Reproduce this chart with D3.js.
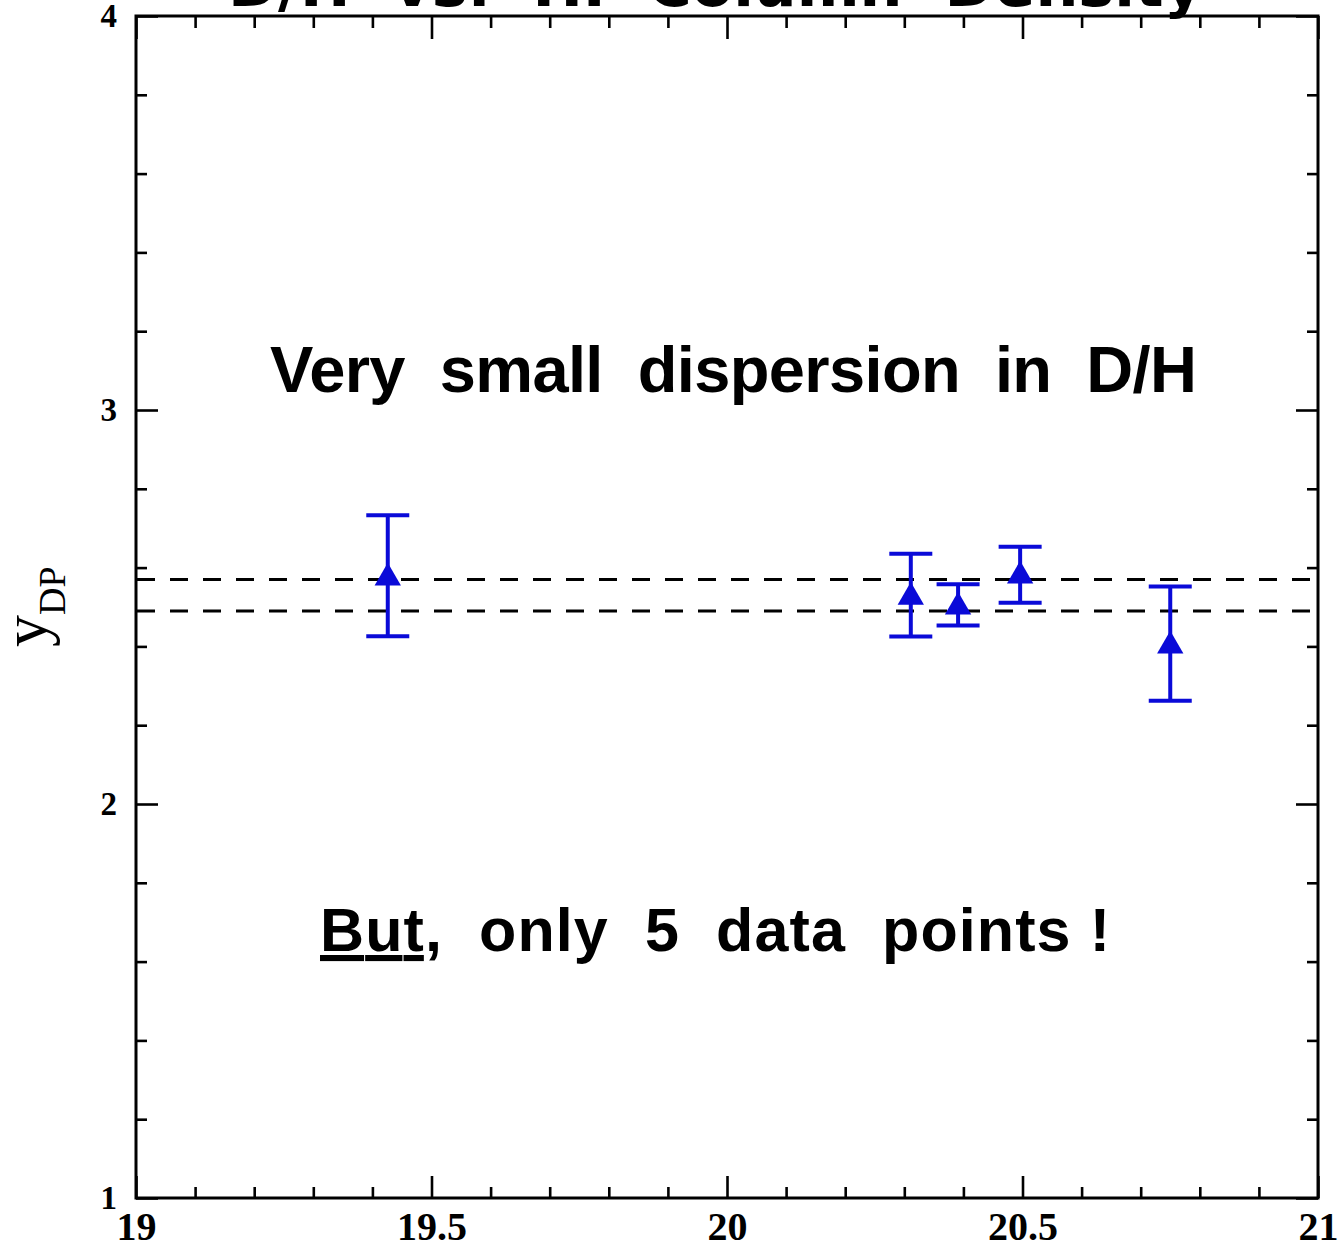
<!DOCTYPE html>
<html>
<head>
<meta charset="utf-8">
<script src="https://cdn.jsdelivr.net/npm/d3@7"></script>
<style>
  html, body { margin: 0; padding: 0; background: #fff; }
  svg { display: block; }
</style>
</head>
<body>
<svg id="chart" width="1338" height="1246"></svg>
<script>
// ---- data ----
const xValues = [19.426, 20.311, 20.391, 20.496, 20.750];   // log N(HI)
const yValues = [2.574, 2.525, 2.500, 2.579, 2.401];        // y_DP
const yUpper  = [2.733, 2.635, 2.558, 2.653, 2.552];
const yLower  = [2.426, 2.425, 2.453, 2.511, 2.262];
const meanBand = [2.49, 2.57];                                 // dashed lines
const xMajorTicks = [19, 19.5, 20, 20.5, 21];
const xTickLabels = ["19", "19.5", "20", "20.5", "21"];
const yMajorTicks = [1, 2, 3, 4];
const yTickLabels = ["1", "2", "3", "4"];
const xDomain = [19, 21];
const yDomain = [1, 4];
const titleText = "D/H  vs.  HI  Column  Density";
const note1 = "Very  small  dispersion  in  D/H";
const note2a = "But";
const note2b = ",  only  5  data  points !";
const yLabelMain = "y";
const yLabelSub = "DP";

// ---- layout ----
const svg = d3.select("#chart");
const L = 136, R = 1318, T = 16, B = 1198;
const x = d3.scaleLinear().domain(xDomain).range([L, R]);
const y = d3.scaleLinear().domain(yDomain).range([B, T]);

const xMinor = d3.range(19, 21.0001, 0.1).map(v => +v.toFixed(2)).filter(v => !xMajorTicks.some(m => Math.abs(m - v) < 1e-6));
const yMinor = d3.range(1, 4.0001, 0.2).map(v => +v.toFixed(2)).filter(v => !yMajorTicks.some(m => Math.abs(m - v) < 1e-6));

function styleAxis(g) {
  g.select(".domain").remove();
  g.selectAll(".tick line").attr("stroke", "#000").attr("stroke-width", 2.6);
}

// title (mostly cut off at the top)
svg.append("text")
  .attr("x", 228).attr("y", 6)
  .attr("textLength", 975).attr("lengthAdjust", "spacingAndGlyphs")
  .attr("font-family", "DejaVu Sans, sans-serif").attr("font-weight", "bold")
  .attr("font-size", 60).attr("fill", "#000")
  .style("white-space", "pre")
  .text(titleText);

// axes: bottom
const xLabelMap = new Map(xMajorTicks.map((v, i) => [v, xTickLabels[i]]));
svg.append("g").attr("transform", `translate(0,${B})`)
  .call(d3.axisBottom(x).tickValues(xMajorTicks).tickSizeInner(-22).tickSizeOuter(0).tickPadding(14)
        .tickFormat(d => xLabelMap.get(d)))
  .call(styleAxis)
  .call(g => g.selectAll("text").attr("font-family", "Liberation Serif, serif").attr("font-weight", "bold")
        .attr("font-size", 40).attr("fill", "#000"));
svg.append("g").attr("transform", `translate(0,${B})`)
  .call(d3.axisBottom(x).tickValues(xMinor).tickSizeInner(-11).tickSizeOuter(0).tickFormat(""))
  .call(styleAxis);
// top
svg.append("g").attr("transform", `translate(0,${T})`)
  .call(d3.axisTop(x).tickValues(xMajorTicks).tickSizeInner(-23).tickSizeOuter(0).tickFormat(""))
  .call(styleAxis);
svg.append("g").attr("transform", `translate(0,${T})`)
  .call(d3.axisTop(x).tickValues(xMinor).tickSizeInner(-12).tickSizeOuter(0).tickFormat(""))
  .call(styleAxis);
// left
const yLabelMap = new Map(yMajorTicks.map((v, i) => [v, yTickLabels[i]]));
svg.append("g").attr("transform", `translate(${L},0)`)
  .call(d3.axisLeft(y).tickValues(yMajorTicks).tickSizeInner(-22).tickSizeOuter(0).tickPadding(19)
        .tickFormat(d => yLabelMap.get(d)))
  .call(styleAxis)
  .call(g => g.selectAll("text").attr("font-family", "Liberation Serif, serif").attr("font-weight", "bold")
        .attr("font-size", 33).attr("fill", "#000"));
svg.append("g").attr("transform", `translate(${L},0)`)
  .call(d3.axisLeft(y).tickValues(yMinor).tickSizeInner(-11).tickSizeOuter(0).tickFormat(""))
  .call(styleAxis);
// right
svg.append("g").attr("transform", `translate(${R},0)`)
  .call(d3.axisRight(y).tickValues(yMajorTicks).tickSizeInner(-22).tickSizeOuter(0).tickFormat(""))
  .call(styleAxis);
svg.append("g").attr("transform", `translate(${R},0)`)
  .call(d3.axisRight(y).tickValues(yMinor).tickSizeInner(-11).tickSizeOuter(0).tickFormat(""))
  .call(styleAxis);

// frame
svg.append("rect")
  .attr("x", x(xDomain[0])).attr("y", y(yDomain[1]))
  .attr("width", x(xDomain[1]) - x(xDomain[0])).attr("height", y(yDomain[0]) - y(yDomain[1]))
  .attr("fill", "none").attr("stroke", "#000").attr("stroke-width", 3);

// dashed mean lines
svg.append("g").selectAll("line").data(meanBand).join("line")
  .attr("x1", x(xDomain[0]) + 1).attr("x2", x(xDomain[1]))
  .attr("y1", d => y(d)).attr("y2", d => y(d))
  .attr("stroke", "#000").attr("stroke-width", 3).attr("stroke-dasharray", "18,15");

// error bars + markers
const blue = "#0a0ad8";
const pts = xValues.map((v, i) => ({ x: v, y: yValues[i], hi: yUpper[i], lo: yLower[i] }));
const capW = 21.5;
const eg = svg.append("g");
eg.selectAll("line.v").data(pts).join("line").attr("class", "v")
  .attr("x1", d => x(d.x)).attr("x2", d => x(d.x))
  .attr("y1", d => y(d.hi)).attr("y2", d => y(d.lo))
  .attr("stroke", blue).attr("stroke-width", 4);
eg.selectAll("line.t").data(pts).join("line").attr("class", "t")
  .attr("x1", d => x(d.x) - capW).attr("x2", d => x(d.x) + capW)
  .attr("y1", d => y(d.hi)).attr("y2", d => y(d.hi))
  .attr("stroke", blue).attr("stroke-width", 4);
eg.selectAll("line.b").data(pts).join("line").attr("class", "b")
  .attr("x1", d => x(d.x) - capW).attr("x2", d => x(d.x) + capW)
  .attr("y1", d => y(d.lo)).attr("y2", d => y(d.lo))
  .attr("stroke", blue).attr("stroke-width", 4);
eg.selectAll("path").data(pts).join("path")
  .attr("transform", d => `translate(${x(d.x)},${y(d.y)})`)
  .attr("d", d3.symbol(d3.symbolTriangle, 300))
  .attr("fill", blue);

// annotations
svg.append("text")
  .attr("x", 270).attr("y", 392)
  .attr("textLength", 927).attr("lengthAdjust", "spacing")
  .attr("font-family", "Liberation Sans, Arial, sans-serif").attr("font-weight", "bold")
  .attr("font-size", 65).attr("fill", "#000")
  .style("white-space", "pre")
  .text(note1);

const t2 = svg.append("text")
  .attr("x", 320).attr("y", 951)
  .attr("textLength", 790).attr("lengthAdjust", "spacing")
  .attr("font-family", "Liberation Sans, Arial, sans-serif").attr("font-weight", "bold")
  .attr("font-size", 61).attr("fill", "#000")
  .style("white-space", "pre");
t2.append("tspan").attr("text-decoration", "underline").text(note2a);
t2.append("tspan").text(note2b);

// y-axis label
const yl = svg.append("text")
  .attr("transform", "translate(46,647) rotate(-90)")
  .attr("font-family", "Liberation Serif, Times New Roman, serif")
  .attr("fill", "#000");
yl.append("tspan").attr("font-size", 64).text(yLabelMain);
yl.append("tspan").attr("font-size", 38).attr("dy", 19).text(yLabelSub);
</script>
</body>
</html>
